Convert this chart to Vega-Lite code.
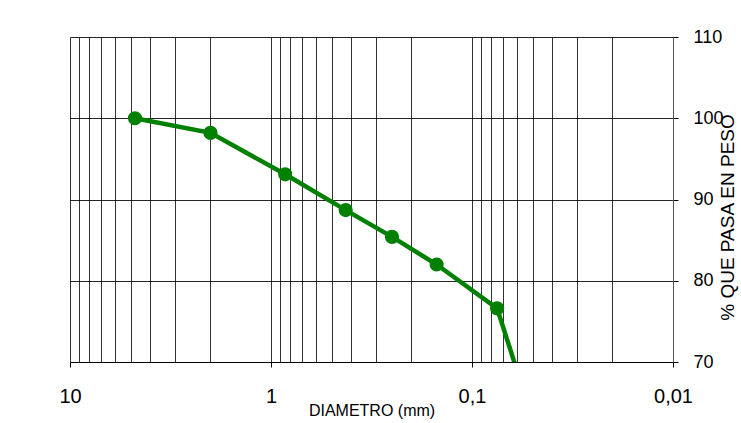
{
  "$schema": "https://vega.github.io/schema/vega-lite/v6.json",
  "width": 603,
  "height": 325,
  "autosize": "none",
  "padding": {"left": 70, "top": 37, "right": 68, "bottom": 61},
  "background": "white",
  "config": {"view": {"stroke": null}, "font": "Liberation Sans"},
  "data": {
    "values": [
      {"d": 4.75, "p": 100},
      {"d": 2.0, "p": 98.2},
      {"d": 0.85, "p": 93.1},
      {"d": 0.425, "p": 88.7},
      {"d": 0.25, "p": 85.4},
      {"d": 0.15, "p": 82.0},
      {"d": 0.075, "p": 76.6},
      {"d": 0.04, "p": 55.5}
    ]
  },
  "encoding": {
    "x": {
      "field": "d",
      "type": "quantitative",
      "scale": {"type": "log", "domain": [0.01, 10], "reverse": true},
      "axis": {
        "values": [10, 9, 8, 7, 6, 5, 4, 3, 2, 1, 0.9, 0.8, 0.7, 0.6, 0.5, 0.4, 0.3, 0.2, 0.1, 0.09, 0.08, 0.07, 0.06, 0.05, 0.04, 0.03, 0.02, 0.01],
        "grid": true,
        "gridColor": "#000000",
        "gridOpacity": 0.8,
        "gridWidth": 1,
        "domainColor": "#000000",
        "domainWidth": 1,
        "tickColor": "#000000",
        "tickSize": 5,
        "tickOpacity": {"condition": {"test": "abs(log(datum.value)/LN10 - round(log(datum.value)/LN10)) < 0.001", "value": 1}, "value": 0},
        "labelExpr": "abs(log(datum.value)/LN10 - round(log(datum.value)/LN10)) < 0.001 ? replace(toString(datum.value), '.', ',') : ''",
        "labelOverlap": false,
        "labelFlush": false,
        "labelBound": false,
        "labelFontSize": 20,
        "labelColor": "#000000",
        "labelPadding": 19,
        "title": "DIAMETRO (mm)",
        "titleFontSize": 16,
        "titleFontWeight": "normal",
        "titleColor": "#000000",
        "titlePadding": -4
      }
    },
    "y": {
      "field": "p",
      "type": "quantitative",
      "scale": {"domain": [70, 110], "nice": false, "zero": false},
      "axis": {
        "orient": "right",
        "values": [70, 80, 90, 100, 110],
        "grid": true,
        "gridColor": "#000000",
        "gridOpacity": 0.85,
        "domainColor": "#555555",
        "tickColor": "#000000",
        "tickSize": 5,
        "labelFontSize": 18,
        "labelColor": "#000000",
        "labelPadding": 15,
        "title": "% QUE PASA EN PESO",
        "titleFontSize": 19,
        "titleFontWeight": "normal",
        "titleColor": "#000000",
        "titleAngle": 270,
        "titleAlign": "center",
        "titleBaseline": "middle",
        "titleX": 54,
        "titleY": 180
      }
    }
  },
  "layer": [
    {"mark": {"type": "line", "color": "#008000", "strokeWidth": 4.5, "clip": true}},
    {"mark": {"type": "circle", "color": "#008000", "size": 200, "opacity": 1, "clip": true}}
  ]
}
